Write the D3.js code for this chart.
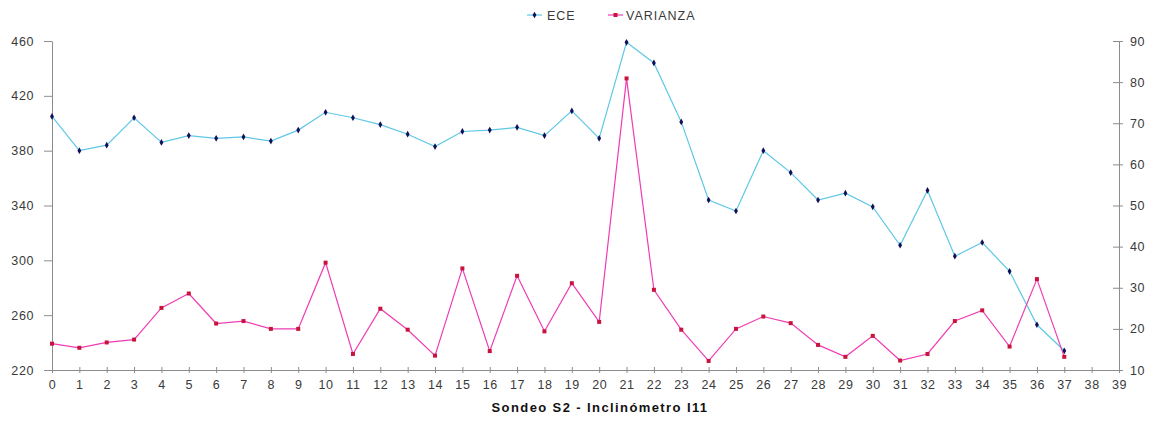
<!DOCTYPE html>
<html>
<head>
<meta charset="utf-8">
<script src="https://cdn.jsdelivr.net/npm/d3@7"></script>
<style>
  html, body { margin: 0; padding: 0; background: #fff; }
  svg { display: block; font-family: "Liberation Sans", Arial, sans-serif; }
</style>
</head>
<body>
<svg id="chart" width="1153" height="428"></svg>
<script>
// Depth index along the borehole (0..37 measured, axis runs to 39)
const categories = d3.range(0, 38);
const xTickLabels = d3.range(0, 40);

// ECE readings (left axis)
const ece = [405, 380, 384, 404, 386, 391, 389, 390, 387, 395,
             408, 404, 399, 392, 383, 394, 395, 397, 391, 409,
             389, 459, 444, 401, 344, 336, 380, 364, 344, 349,
             339, 311, 351, 303, 313, 292, 253, 234];

// Variance (right axis)
const varianza = [16.4, 15.4, 16.7, 17.4, 25.1, 28.6, 21.3, 21.9, 20.0, 20.0,
                  36.1, 13.9, 24.9, 19.8, 13.5, 34.7, 14.6, 32.9, 19.4, 31.1,
                  21.7, 80.9, 29.5, 19.8, 12.2, 20.0, 23.0, 21.4, 16.1, 13.2,
                  18.3, 12.3, 13.9, 21.9, 24.5, 15.7, 32.1, 13.2];

const leftTicks = [220, 260, 300, 340, 380, 420, 460];
const rightTicks = [10, 20, 30, 40, 50, 60, 70, 80, 90];

const svg = d3.select("#chart");
const plot = { left: 52, right: 1119, top: 41, bottom: 370 };
const axisColor = "#8c8c8c";
const textColor = "#3a3a3a";

const x = d3.scaleLinear().domain([0, 39]).range([plot.left, plot.right]);
const yL = d3.scaleLinear().domain([220, 460]).range([plot.bottom, plot.top]);
const yR = d3.scaleLinear().domain([10, 90]).range([plot.bottom, plot.top]);

function styleAxis(g) {
  g.select(".domain").attr("stroke", axisColor);
  g.selectAll(".tick line").attr("stroke", axisColor);
  g.selectAll(".tick text")
    .attr("fill", textColor)
    .style("font-size", "12.5px")
    .style("letter-spacing", "0.6px");
}

// Left axis
svg.append("g")
  .attr("transform", `translate(${plot.left},0)`)
  .call(d3.axisLeft(yL).tickValues(leftTicks).tickSize(8).tickPadding(10).tickSizeOuter(0))
  .call(styleAxis);

// Right axis (ticks cross the axis line)
const gR = svg.append("g")
  .attr("transform", `translate(${plot.right},0)`)
  .call(d3.axisRight(yR).tickValues(rightTicks).tickSize(4).tickPadding(7).tickSizeOuter(0))
  .call(styleAxis);
gR.selectAll(".tick line").attr("x1", -6);

// Bottom axis
const gX = svg.append("g")
  .attr("transform", `translate(0,${plot.bottom})`)
  .call(d3.axisBottom(x).tickValues(xTickLabels).tickFormat(d3.format("d")).tickSize(3).tickPadding(7).tickSizeOuter(0))
  .call(styleAxis);
gX.selectAll(".tick line").attr("y1", -3);

// ECE series
svg.append("path")
  .datum(ece)
  .attr("fill", "none")
  .attr("stroke", "#5fc8e6")
  .attr("stroke-width", 1.2)
  .attr("d", d3.line().x((d, i) => x(categories[i])).y(d => yL(d)));

svg.append("g").selectAll("path")
  .data(ece)
  .join("path")
  .attr("transform", (d, i) => `translate(${x(categories[i])},${yL(d)})`)
  .attr("d", d3.symbol(d3.symbolDiamond, 13))
  .attr("fill", "#10105a");

// VARIANZA series
svg.append("path")
  .datum(varianza)
  .attr("fill", "none")
  .attr("stroke", "#f03cb4")
  .attr("stroke-width", 1.2)
  .attr("d", d3.line().x((d, i) => x(categories[i])).y(d => yR(d)));

svg.append("g").selectAll("rect")
  .data(varianza)
  .join("rect")
  .attr("x", (d, i) => x(categories[i]) - 2)
  .attr("y", d => yR(d) - 2)
  .attr("width", 4)
  .attr("height", 4)
  .attr("fill", "#c8143c");

// Legend
const legend = svg.append("g");
const legendItems = [
  { label: "ECE", x0: 527, line: "#5fc8e6", marker: "diamond", mcolor: "#10105a", tx: 547 },
  { label: "VARIANZA", x0: 608, line: "#f03cb4", marker: "square", mcolor: "#c8143c", tx: 626 }
];
legendItems.forEach(it => {
  const ly = 15;
  legend.append("line")
    .attr("x1", it.x0).attr("x2", it.x0 + 15)
    .attr("y1", ly).attr("y2", ly)
    .attr("stroke", it.line).attr("stroke-width", 1.2);
  if (it.marker === "diamond") {
    legend.append("path")
      .attr("transform", `translate(${it.x0 + 7.5},${ly})`)
      .attr("d", d3.symbol(d3.symbolDiamond, 13))
      .attr("fill", it.mcolor);
  } else {
    legend.append("rect")
      .attr("x", it.x0 + 5.5).attr("y", ly - 2)
      .attr("width", 4).attr("height", 4)
      .attr("fill", it.mcolor);
  }
  legend.append("text")
    .attr("x", it.tx).attr("y", ly + 5)
    .attr("fill", textColor)
    .style("font-size", "12.5px")
    .style("letter-spacing", "1px")
    .text(it.label);
});

// Axis title
svg.append("text")
  .attr("x", 600)
  .attr("y", 412)
  .attr("text-anchor", "middle")
  .attr("fill", "#111")
  .style("font-size", "13px")
  .style("font-weight", "bold")
  .style("letter-spacing", "1.4px")
  .text("Sondeo S2 - Inclinómetro I11");
</script>
</body>
</html>
